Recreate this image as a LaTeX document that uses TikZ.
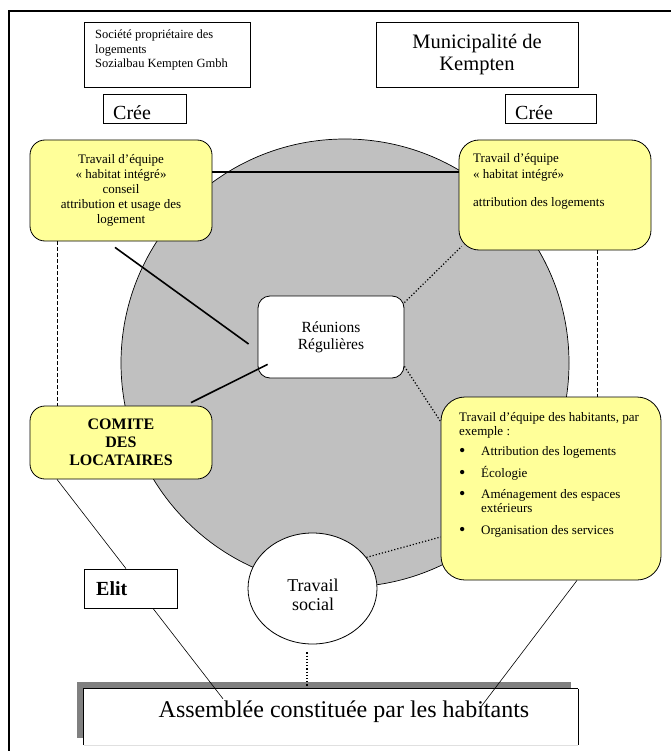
\documentclass[tikz,border=0pt]{standalone}
\usepackage{fontspec}
\setmainfont{Liberation Serif}
\usetikzlibrary{shapes.geometric}
\definecolor{ylw}{RGB}{255,255,153}
\definecolor{circgray}{RGB}{192,192,192}
\definecolor{shadowgray}{RGB}{128,128,128}
\newcommand{\bigbul}{\raisebox{-1.5pt}{\fontsize{18}{14}\selectfont\textbullet}}
\tikzset{
  plainbox/.style={draw=black, line width=0.8pt, fill=white, inner sep=0pt},
  ybox/.style={draw=black, line width=0.8pt, fill=ylw, rounded corners=#1, inner sep=0pt},
  txt/.style={inner sep=0pt, align=left},
  ctxt/.style={inner sep=0pt, align=center},
  thickcon/.style={line width=1.6pt},
  thincon/.style={line width=0.6pt},
  dotcon/.style={line width=1.2pt, dotted},
  dashcon/.style={line width=0.6pt, dash pattern=on 4pt off 2pt},
}
\begin{document}
\begin{tikzpicture}[x=1pt,y=-1pt]
\useasboundingbox (0,0) rectangle (671,751);
% frame
\draw[line width=2pt] (9,751) -- (9,11) -- (671,11);
% big circle
\node[circle, draw=black, line width=0.7pt, fill=circgray, minimum size=448pt, inner sep=0pt] (big) at (345,363) {};
% top boxes
\node[plainbox, minimum width=166pt, minimum height=65pt] (soc) at (167,54.5) {};
\node[txt, anchor=west, font=\fontsize{12.5}{14.5}\selectfont] (soct) at (95,50) {Société propriétaire des\\logements\\Sozialbau Kempten Gmbh};
\node[plainbox, minimum width=202pt, minimum height=65pt, align=center, font=\fontsize{20.5}{22}\selectfont] (mun) at (477,54.5) {Municipalité de\\Kempten};
\node[plainbox, minimum width=83pt, minimum height=29pt] (cree1) at (144.5,108.5) {};
\node[txt, anchor=west, font=\fontsize{20}{22}\selectfont] (cree1t) at (113,113) {Crée};
\node[plainbox, minimum width=91pt, minimum height=29pt] (cree2) at (550.5,108.5) {};
\node[txt, anchor=west, font=\fontsize{20}{22}\selectfont] (cree2t) at (515,113) {Crée};
% yellow boxes
\node[ybox=15pt, minimum width=182pt, minimum height=101pt, align=center, font=\fontsize{13}{15}\selectfont] (lyb) at (121,190.5)
  {Travail d’équipe\\« habitat intégré»\\conseil\\attribution et usage des\\logement};
\node[ybox=20pt, minimum width=192pt, minimum height=110pt] (ryb) at (555,195) {};
\node[txt, anchor=west, font=\fontsize{13}{16}\selectfont] (rybt) at (473,181) {Travail d’équipe\\« habitat intégré»\\[12pt]attribution des logements};
\node[draw=black, line width=0.8pt, fill=white, rounded corners=12pt, inner sep=0pt, minimum width=146pt, minimum height=82pt, align=center, font=\fontsize{15.5}{17}\selectfont] (reu) at (331,337) {Réunions\\Régulières};
\node[ybox=15pt, minimum width=182pt, minimum height=73pt, align=center, font=\fontsize{16}{18}\selectfont\bfseries] (com) at (121,442.5) {COMITE\\DES\\LOCATAIRES};
\node[ybox=24pt, minimum width=220pt, minimum height=183pt] (hab) at (551,488.5) {};
\node[inner sep=0pt, anchor=west, font=\fontsize{13}{14}\selectfont] (habt) at (459,475) {%
\begin{tabular}{@{}p{22pt}@{}l@{}}
\multicolumn{2}{@{}l@{}}{Travail d’équipe des habitants, par}\\
\multicolumn{2}{@{}l@{}}{exemple :}\\[6pt]
\bigbul & Attribution des logements\\[7pt]
\bigbul & Écologie\\[7pt]
\bigbul & Aménagement des espaces\\
 & extérieurs\\[8pt]
\bigbul & Organisation des services
\end{tabular}};
% travail social
\node[ellipse, draw=black, line width=0.8pt, fill=white, minimum width=129pt, minimum height=111pt, inner sep=0pt] (ts) at (312.5,588.5) {};
\node[ctxt, font=\fontsize{18}{19}\selectfont] (tst) at (313,595) {Travail\\social};
% elit
\node[plainbox, minimum width=93pt, minimum height=39pt] (elit) at (130.5,588.5) {};
\node[txt, anchor=west, font=\fontsize{20}{22}\selectfont\bfseries] (elitt) at (96,589) {Elit};
% assemblee
\fill[shadowgray] (77,682) rectangle (571,738);
\node[fill=white, inner sep=0pt, minimum width=494pt, minimum height=56pt] (ass) at (331,717) {};
\draw[line width=0.7pt] (ass.south west) -- (ass.north west) -- (ass.north east);
\draw[line width=1.4pt] (ass.north east) -- (ass.south east);
\draw[line width=0.6pt, black!12] (ass.south west) -- (ass.south east);
\node[ctxt, font=\fontsize{24}{26}\selectfont] (asst) at (344,712) {Assemblée constituée par les habitants};
% connectors
\draw[thickcon] ([yshift=18.5pt]lyb.east) coordinate (c1) -- (c1 -| ryb.west);
\draw[thickcon] ([xshift=-6pt,yshift=-6pt]lyb.south) -- ([xshift=-9pt,yshift=-7pt]reu.west);
\draw[thickcon] ([xshift=70pt,yshift=3pt]com.north) -- ([xshift=10pt,yshift=14pt]reu.south west);
\draw[dashcon] ([xshift=-64pt]lyb.south) coordinate (d1) -- (d1 |- com.north);
\draw[dashcon] ([xshift=-54pt]ryb.south east) coordinate (d2) -- (d2 |- hab.north);
\draw[dotcon] ([yshift=-7pt]reu.north east) -- ([xshift=3pt,yshift=4pt]ryb.south west);
\draw[dotcon] ([yshift=12pt]reu.south east) -- ([yshift=-25pt]hab.north west);
\draw[dotcon] (ts.30) -- ([yshift=-48.5pt]hab.west);
\draw[dotcon] ([xshift=-5.5pt,yshift=-8pt]ts.south) coordinate (d3) -- (d3 |- ass.north);
\draw[thincon] ([xshift=-64pt]com.south) -- ([xshift=-4.5pt]elit.north);
\draw[thincon] ([xshift=22.5pt]elit.south) -- ([xshift=-108pt,yshift=-10pt]ass.north);
\draw[thincon] ([xshift=26pt]hab.south) -- ([xshift=-98pt,yshift=-19pt]ass.north east);
\end{tikzpicture}
\end{document}
